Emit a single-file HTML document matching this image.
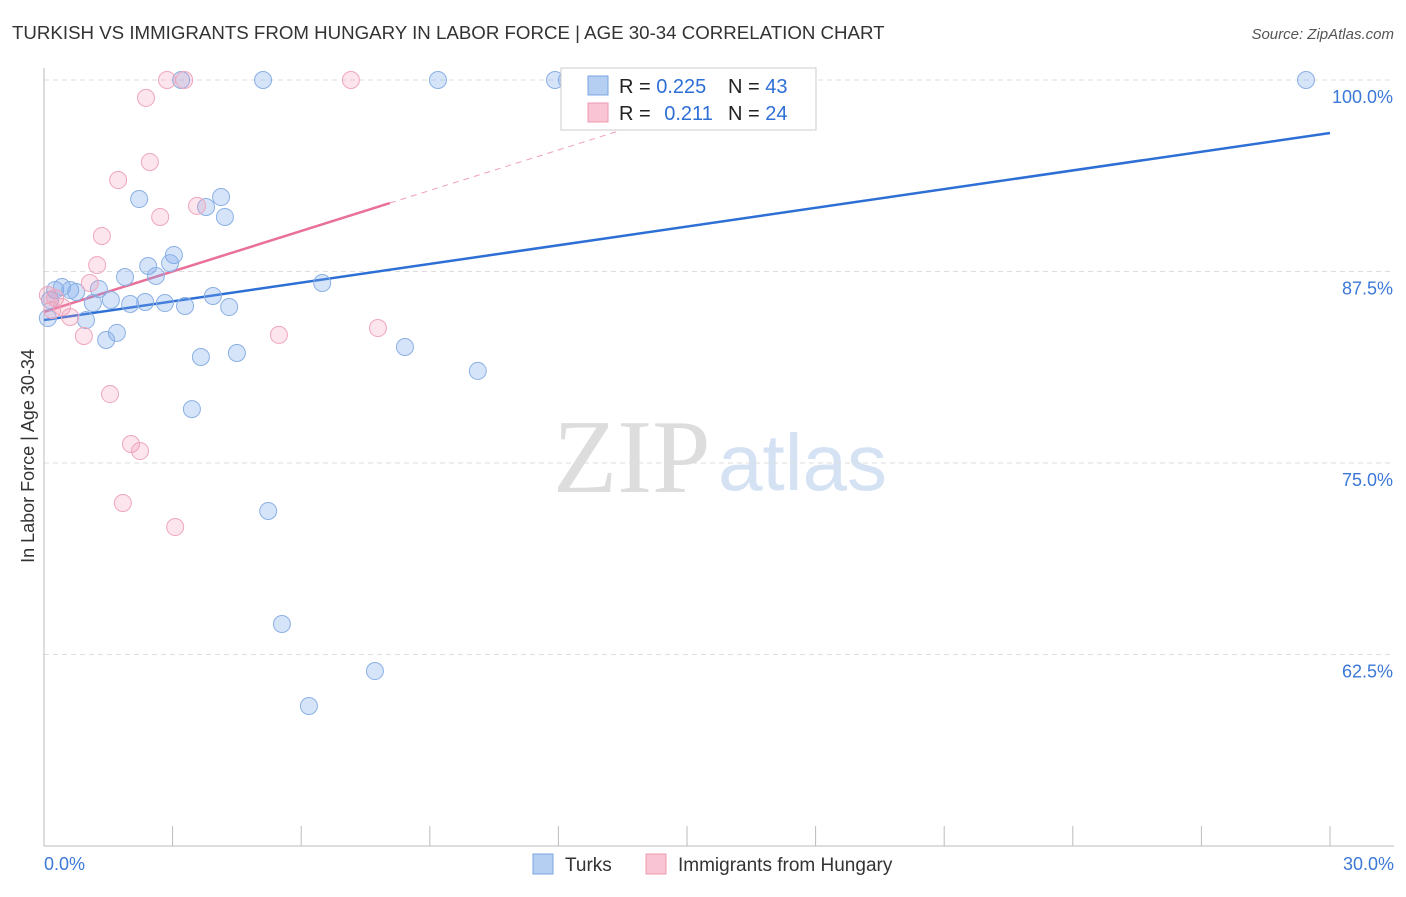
<!DOCTYPE html>
<html><head><meta charset="utf-8"><style>
body{margin:0;background:#fff;font-family:"Liberation Sans",sans-serif;}
svg text{font-family:"Liberation Sans",sans-serif;}
</style></head><body>
<svg id="chart" width="1406" height="892" xmlns="http://www.w3.org/2000/svg">
<text x="12" y="39" font-size="18.7" fill="#333">TURKISH VS IMMIGRANTS FROM HUNGARY IN LABOR FORCE | AGE 30-34 CORRELATION CHART</text>
<text x="1394" y="39" font-size="15" fill="#555" font-style="italic" text-anchor="end">Source: ZipAtlas.com</text>
<text transform="translate(34,456) rotate(-90)" font-size="18" fill="#333" text-anchor="middle">In Labor Force | Age 30-34</text>
<text x="553" y="492" font-size="105" fill="#ddd" style="font-family:'Liberation Serif',serif">ZIP</text>
<text x="718" y="490" font-size="80" fill="#d4e2f4">atlas</text>
<g id="grid"></g><g id="axes"></g><g id="trends"></g><g id="points"></g>
<g>
<rect x="561" y="68" width="255" height="62" fill="#fff" stroke="#ccc"/>
<rect x="588" y="76" width="20" height="19" fill="#b5cff3" stroke="#7aa6e0"/>
<rect x="588" y="103" width="20" height="19" fill="#f9c4d3" stroke="#ec9ab2"/>
<text x="619" y="93" font-size="20" fill="#222">R = <tspan fill="#2e6fd6">0.225</tspan></text>
<text x="728" y="93" font-size="20" fill="#222">N = <tspan fill="#2e6fd6">43</tspan></text>
<text x="619" y="120" font-size="20" fill="#222">R = <tspan fill="#2e6fd6" dx="8">0.211</tspan></text>
<text x="728" y="120" font-size="20" fill="#222">N = <tspan fill="#2e6fd6">24</tspan></text>
</g>
<g>
<rect x="533" y="854" width="20" height="20" fill="#b5cff3" stroke="#7aa6e0"/>
<text x="565" y="871" font-size="19" fill="#333">Turks</text>
<rect x="646" y="854" width="20" height="20" fill="#f9c4d3" stroke="#ec9ab2"/>
<text x="678" y="871" font-size="19" fill="#333">Immigrants from Hungary</text>
</g>
</svg>
<script>
const turksX=[3.20,5.11,9.19,11.92,12.20,29.44,2.22,4.13,3.78,4.22,3.03,2.43,2.94,1.89,2.61,6.49,0.26,0.42,0.61,1.28,0.75,1.56,1.14,2.01,2.36,2.82,3.29,3.94,4.32,0.14,0.09,0.98,1.70,1.45,3.66,4.50,8.42,10.12,3.45,5.23,5.55,7.72,6.18];
const turksY=[100,100,100,100,100,100,92.23,92.36,91.71,91.06,88.58,87.86,88.05,87.14,87.21,86.75,86.29,86.49,86.29,86.36,86.16,85.64,85.44,85.38,85.51,85.44,85.25,85.90,85.18,85.64,84.46,84.33,83.49,83.03,81.92,82.18,82.57,81.01,78.52,71.87,64.49,61.42,59.14];
const hungX=[2.87,3.27,7.16,2.38,2.47,1.73,2.71,3.57,1.35,1.24,1.07,0.26,0.42,0.61,0.93,0.09,5.48,7.79,1.54,2.03,2.24,1.84,3.06,0.19];
const hungY=[100,100,100,98.83,94.65,93.47,91.06,91.78,89.82,87.92,86.75,85.77,85.18,84.53,83.29,85.97,83.36,83.81,79.50,76.24,75.78,72.39,70.82,84.99];
const turksTrend=[84.33,96.54];
const hungTrend=[84.86,91.97];
const hungTrendEnd=8.07;
const yTicks=[100,87.5,75,62.5];
const yTickLabels=["100.0%","87.5%","75.0%","62.5%"];
const xTicks=[0,3,6,9,12,15,18,21,24,27,30];
const NS="http://www.w3.org/2000/svg";
const sx=v=>44+v/30*1286, sy=v=>80+(100-v)*15.32;
function mk(tag,attrs,parent){const e=document.createElementNS(NS,tag);for(const k in attrs)e.setAttribute(k,attrs[k]);document.getElementById(parent).appendChild(e);return e;}
yTicks.forEach((t,i)=>{
 const l=mk('line',{x1:44,x2:1394,y1:sy(t),y2:sy(t),stroke:'#ddd','stroke-dasharray':'5,4'},'grid');
 
 
 const tx=mk('text',{x:1393,y:sy(t)+23,'font-size':18,fill:'#3b78d8','text-anchor':'end'},'grid');
 tx.textContent=yTickLabels[i];
 
 
});
const ya=mk('line',{x1:44,x2:44,y1:68,y2:846,stroke:'#bbb'},'axes');


const xa=mk('line',{x1:44,x2:1394,y1:846,y2:846,stroke:'#bbb'},'axes');


xTicks.forEach(t=>{
 const l=mk('line',{x1:sx(t),x2:sx(t),y1:826,y2:846,stroke:'#bbb'},'axes');
 
 
});
const x0=mk('text',{x:44,y:870,'font-size':18,fill:'#3b78d8'},'axes');x0.textContent='0.0%';


const x1=mk('text',{x:1394,y:870,'font-size':18,fill:'#3b78d8','text-anchor':'end'},'axes');x1.textContent='30.0%';


function dots(xs,ys,fill,stroke,name){xs.forEach((x,i)=>{
 const c=mk('circle',{cx:sx(x),cy:sy(ys[i]),r:8.5,fill:fill,stroke:stroke,'stroke-width':1},'points');
 
 
});}
dots(turksX,turksY,'rgba(120,165,235,0.3)','#8ab0e4','turks-point');
dots(hungX,hungY,'rgba(245,150,180,0.25)','#efa6bd','hungary-point');
const bt=mk('line',{x1:sx(0),y1:sy(turksTrend[0]),x2:sx(30),y2:sy(turksTrend[1]),stroke:'#2e6fd6','stroke-width':2.5},'trends');


const slope=(hungTrend[1]-hungTrend[0])/hungTrendEnd;
const pt=mk('line',{x1:sx(0),y1:sy(hungTrend[0]),x2:sx(hungTrendEnd),y2:sy(hungTrend[1]),stroke:'#e8709a','stroke-width':2.5},'trends');


const xEnd=(100-hungTrend[0])/slope;
const pd=mk('line',{x1:sx(hungTrendEnd),y1:sy(hungTrend[1]),x2:sx(xEnd),y2:sy(100),stroke:'#f0a0bc','stroke-width':1,'stroke-dasharray':'6,5'},'trends');


</script>
</body></html>
